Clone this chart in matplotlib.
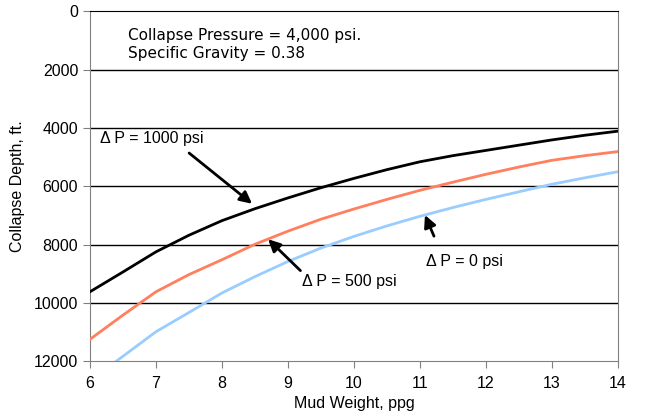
import numpy as np
import matplotlib.pyplot as plt

# mud weight (ppg) and collapse depth (ft)
mud_weight = [6, 6.5, 7, 7.5, 8, 8.5, 9, 9.5, 10, 10.5, 11, 11.5, 12, 12.5, 13, 13.5, 14]
depth_dp1000 = [9620, 8940, 8250, 7680, 7180, 6770, 6400, 6050, 5730, 5430,
                5160, 4950, 4770, 4590, 4410, 4250, 4110]
depth_dp500 = [11250, 10420, 9620, 9030, 8520, 7990, 7540, 7130, 6780, 6450,
               6140, 5860, 5590, 5340, 5110, 4950, 4810]
mw_dp0 = [6.4, 7, 7.5, 8, 8.5, 9, 9.5, 10, 10.5, 11, 11.5, 12, 12.5, 13, 13.5, 14]
depth_dp0 = [12000, 10990, 10330, 9660, 9100, 8580, 8120, 7720, 7360, 7030,
             6730, 6450, 6190, 5930, 5710, 5500]

x_ticks = [6, 7, 8, 9, 10, 11, 12, 13, 14]
y_ticks = [0, 2000, 4000, 6000, 8000, 10000, 12000]

plt.rcParams['font.family'] = ['Liberation Sans', 'DejaVu Sans']

fig = plt.figure(figsize=(6.47, 4.2), dpi=100)
ax = fig.add_axes([0.139, 0.14, 0.816, 0.833])

for y in y_ticks[1:-1]:
    ax.axhline(y, color='black', linewidth=1, zorder=1)

ax.plot(mud_weight, depth_dp1000, color='black', linewidth=2, zorder=3)
ax.plot(mud_weight, depth_dp500, color='#ff7f5f', linewidth=2, zorder=3)
ax.plot(mw_dp0, depth_dp0, color='#99ccff', linewidth=2, zorder=3)

ax.set_xlim(6, 14)
ax.set_ylim(12000, 0)
ax.set_xticks(x_ticks)
ax.set_yticks(y_ticks)
ax.tick_params(labelsize=11.5, color='#808080', length=5)
ax.tick_params(axis='x', pad=6)
for side in ['left', 'right', 'bottom']:
    ax.spines[side].set_color('#808080')
ax.spines['top'].set_color('black')

ax.set_xlabel('Mud Weight, ppg', fontsize=11.5, labelpad=3)
ax.set_ylabel('Collapse Depth, ft.', fontsize=11.5, labelpad=6)

ax.text(6.57, 830, 'Collapse Pressure = 4,000 psi.', fontsize=11,
        family='DejaVu Sans', va='center')
ax.text(6.57, 1450, 'Specific Gravity = 0.38', fontsize=11,
        family='DejaVu Sans', va='center')

arrow = dict(arrowstyle='-|>', color='black', linewidth=2, mutation_scale=18)
ax.text(6.16, 4350, 'Δ P = 1000 psi', fontsize=11.5, va='center')
ax.annotate('', xy=(8.49, 6660), xytext=(7.47, 4800), arrowprops=arrow)
ax.text(9.22, 9280, 'Δ P = 500 psi', fontsize=11.5, va='center')
ax.annotate('', xy=(8.67, 7750), xytext=(9.22, 8960), arrowprops=arrow)
ax.text(11.09, 8570, 'Δ P = 0 psi', fontsize=11.5, va='center')
ax.annotate('', xy=(11.06, 6900), xytext=(11.23, 7800), arrowprops=arrow)

fig.savefig('out.png', dpi=100)
